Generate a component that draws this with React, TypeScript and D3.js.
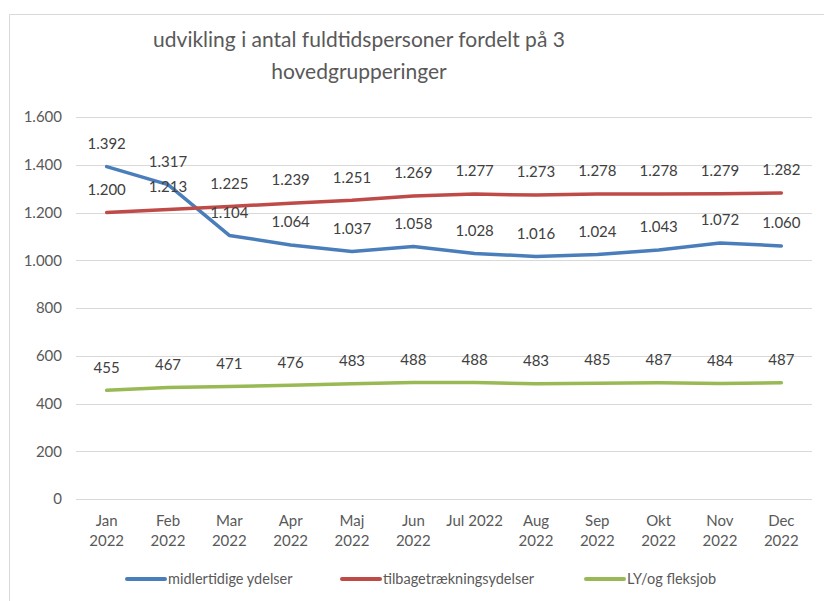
import React from 'react';
import * as d3 from 'd3';

// data
const months = ['Jan\n2022', 'Feb\n2022', 'Mar\n2022', 'Apr\n2022', 'Maj\n2022', 'Jun\n2022', 'Jul 2022', 'Aug\n2022', 'Sep\n2022', 'Okt\n2022', 'Nov\n2022', 'Dec\n2022'];
const midlertidige = [1392, 1317, 1104, 1064, 1037, 1058, 1028, 1016, 1024, 1043, 1072, 1060];
const tilbagetraekning = [1200, 1213, 1225, 1239, 1251, 1269, 1277, 1273, 1278, 1278, 1279, 1282];
const fleksjob = [455, 467, 471, 476, 483, 488, 488, 483, 485, 487, 484, 487];
const yTicks = [0, 200, 400, 600, 800, 1000, 1200, 1400, 1600];
const seriesNames = ['midlertidige ydelser', 'tilbagetrækningsydelser', 'LY/og fleksjob'];
const seriesColors = ['#4A7EBB', '#BE4B48', '#98B954'];
const titleLines = ['udvikling i antal fuldtidspersoner fordelt på 3', 'hovedgrupperinger'];

const W = 824;
const H = 601;
const font = 'Lato, "Open Sans", sans-serif';

const da = d3.formatLocale({ decimal: ',', thousands: '.', grouping: [3], currency: ['', ' kr.'] });
const fmt = da.format(',');

export default function App() {
  const x = d3.scaleBand<string>().domain(months).range([76, 812]).padding(0);
  const y = d3.scaleLinear().domain([0, 1600]).range([499, 117]);
  const cx = (i: number) => (x(months[i]) ?? 0) + x.bandwidth() / 2;

  const line = d3.line<number>()
    .x((_, i) => cx(i))
    .y(v => y(v));

  const series = [midlertidige, tilbagetraekning, fleksjob];

  const legendX = [127, 342, 586];

  return (
    <svg width={W} height={H} style={{ position: 'absolute', left: 0, top: 0, background: '#fff' }}>
      {/* frame */}
      <line x1={9.5} y1={14.5} x2={W} y2={14.5} stroke="#d9d9d9" />
      <line x1={9.5} y1={14.5} x2={9.5} y2={H} stroke="#d9d9d9" />

      {/* title */}
      {titleLines.map((t, i) => (
        <text key={t} x={359} y={47 + i * 32} textAnchor="middle" fontFamily={font} fontSize={21} fill="#595959">{t}</text>
      ))}

      {/* grid + y labels */}
      {yTicks.map(t => (
        <g key={t}>
          <line x1={76} x2={812} y1={Math.round(y(t)) + 0.5} y2={Math.round(y(t)) + 0.5} stroke="#d9d9d9" />
          <text x={62} y={y(t)} dy="0.35em" textAnchor="end" fontFamily={font} fontSize={15} fill="#595959">{fmt(t)}</text>
        </g>
      ))}

      {/* x labels */}
      {months.map((m, i) => (
        <text key={m} x={cx(i)} y={526} textAnchor="middle" fontFamily={font} fontSize={15} fill="#595959">
          {m.split('\n').map((part, j) => (
            <tspan key={j} x={cx(i)} dy={j === 0 ? 0 : 20}>{part}</tspan>
          ))}
        </text>
      ))}

      {/* lines */}
      {series.map((s, k) => (
        <path key={k} d={line(s) ?? ''} fill="none" stroke={seriesColors[k]} strokeWidth={3.5} strokeLinejoin="round" strokeLinecap="round" />
      ))}

      {/* data labels */}
      {series.map((s, k) => s.map((v, i) => (
        <text key={`${k}-${i}`} x={cx(i)} y={y(v) - 23} dy="0.35em" textAnchor="middle" fontFamily={font} fontSize={15} fill="#404040">{fmt(v)}</text>
      )))}

      {/* legend */}
      {seriesNames.map((n, k) => (
        <g key={n} transform={`translate(${legendX[k]},579)`}>
          <line x1={0} x2={38} y1={0} y2={0} stroke={seriesColors[k]} strokeWidth={4} strokeLinecap="round" />
          <text x={41} y={0} dy="0.35em" fontFamily={font} fontSize={14.5} fill="#595959">{n}</text>
        </g>
      ))}
    </svg>
  );
}
